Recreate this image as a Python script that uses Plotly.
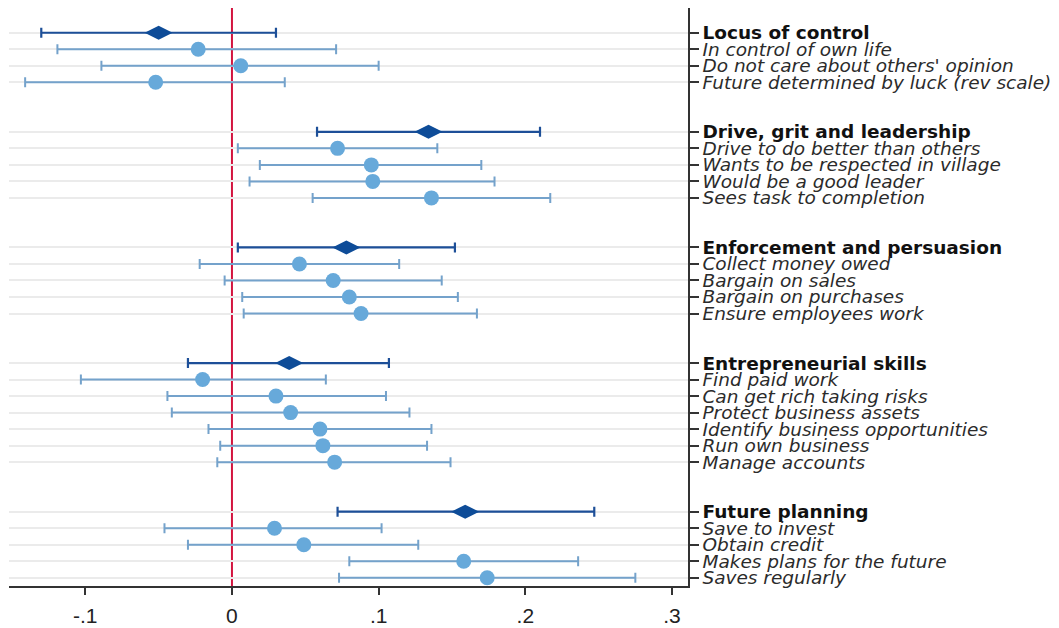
import plotly.graph_objects as go

# Group indices (header rows) and their item rows
group_names = ["Locus of control", "Drive, grit and leadership", "Enforcement and persuasion",
               "Entrepreneurial skills", "Future planning"]
group_est = [-0.050, 0.134, 0.078, 0.039, 0.159]
group_lo = [-0.130, 0.058, 0.004, -0.030, 0.072]
group_hi = [0.030, 0.210, 0.152, 0.107, 0.247]

item_names = [
    ["In control of own life", "Do not care about others' opinion", "Future determined by luck (rev scale)"],
    ["Drive to do better than others", "Wants to be respected in village", "Would be a good leader",
     "Sees task to completion"],
    ["Collect money owed", "Bargain on sales", "Bargain on purchases", "Ensure employees work"],
    ["Find paid work", "Can get rich taking risks", "Protect business assets",
     "Identify business opportunities", "Run own business", "Manage accounts"],
    ["Save to invest", "Obtain credit", "Makes plans for the future", "Saves regularly"],
]
item_est = [
    [-0.023, 0.006, -0.052],
    [0.072, 0.095, 0.096, 0.136],
    [0.046, 0.069, 0.080, 0.088],
    [-0.020, 0.030, 0.040, 0.060, 0.062, 0.070],
    [0.029, 0.049, 0.158, 0.174],
]
item_lo = [
    [-0.119, -0.089, -0.141],
    [0.004, 0.019, 0.012, 0.055],
    [-0.022, -0.005, 0.007, 0.008],
    [-0.103, -0.044, -0.041, -0.016, -0.008, -0.010],
    [-0.046, -0.030, 0.080, 0.073],
]
item_hi = [
    [0.071, 0.100, 0.036],
    [0.140, 0.170, 0.179, 0.217],
    [0.114, 0.143, 0.154, 0.167],
    [0.064, 0.105, 0.121, 0.136, 0.133, 0.149],
    [0.102, 0.127, 0.236, 0.275],
]

x_tickvals = [-0.1, 0, 0.1, 0.2, 0.3]
x_ticktext = ["-.1", "0", ".1", ".2", ".3"]

# Lay out rows: header, items, then two blank rows between groups
hy, iy, tickvals, ticktext = [], [], [], []
pos = 0
for g, name in enumerate(group_names):
    hy.append(pos)
    tickvals.append(pos)
    ticktext.append(f"<b>{name}</b>")
    pos -= 1
    rows = []
    for it in item_names[g]:
        rows.append(pos)
        tickvals.append(pos)
        ticktext.append(f"<i><span style='color:#2b2b2b'>{it}</span></i>")
        pos -= 1
    iy.append(rows)
    pos -= 2
last_row = pos + 3

fig = go.Figure()

ix, iyy, ilo, ihi = [], [], [], []
for g in range(len(group_names)):
    for k in range(len(item_names[g])):
        ix.append(item_est[g][k])
        iyy.append(iy[g][k])
        ilo.append(item_est[g][k] - item_lo[g][k])
        ihi.append(item_hi[g][k] - item_est[g][k])

fig.add_trace(go.Scatter(
    x=ix, y=iyy, mode="markers",
    marker=dict(symbol="circle", size=15, color="#67a9da", line=dict(width=0)),
    error_x=dict(type="data", symmetric=False, array=ihi, arrayminus=ilo,
                 color="#74a2cb", thickness=2, width=5),
    showlegend=False,
))

fig.add_trace(go.Scatter(
    x=group_est, y=hy, mode="markers",
    marker=dict(symbol="diamond-wide", size=20, color="#0e4c98", line=dict(width=0)),
    error_x=dict(type="data", symmetric=False,
                 array=[h - e for h, e in zip(group_hi, group_est)],
                 arrayminus=[e - l for e, l in zip(group_est, group_lo)],
                 color="#1d4f98", thickness=2.2, width=5),
    showlegend=False,
))

fig.add_shape(type="line", xref="x", yref="paper", x0=0, x1=0, y0=0, y1=1,
              line=dict(color="#d3143f", width=2), layer="below")

fig.update_layout(
    width=1059, height=628,
    margin=dict(l=9, r=371, t=8, b=42),
    paper_bgcolor="white", plot_bgcolor="white",
    font=dict(family="Liberation Sans, Arial, sans-serif", color="#111"),
    xaxis=dict(range=[-0.152, 0.3109], tickvals=x_tickvals, ticktext=x_ticktext,
               showgrid=False, zeroline=False, showline=True, linecolor="#333",
               linewidth=1.5, ticks="outside", ticklen=7, tickcolor="#333", tickwidth=1.5,
               ticklabelstandoff=3, automargin=False,
               tickfont=dict(size=21, color="#222")),
    yaxis=dict(range=[last_row - 0.5, 1.5], side="right", tickvals=tickvals, ticktext=ticktext,
               showgrid=True, gridcolor="#ebebeb", gridwidth=1.5, zeroline=False,
               showline=True, linecolor="#333", linewidth=1.5, ticks="outside", ticklen=9,
               tickcolor="#333", tickwidth=1.5, automargin=False,
               tickfont=dict(family="DejaVu Sans", size=18.5, color="#111")),
)

fig.write_html("out.html")
